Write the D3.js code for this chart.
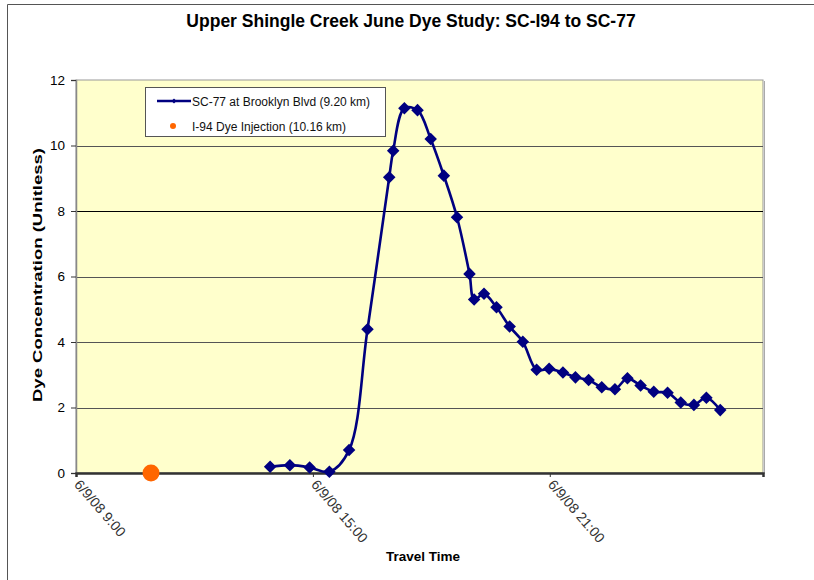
<!DOCTYPE html>
<html><head><meta charset="utf-8">
<script src="https://cdn.jsdelivr.net/npm/d3@7"></script>
<style>
body{margin:0;background:#fff;}
text{font-family:"Liberation Sans",Arial,sans-serif;}
</style></head>
<body><svg id="c" width="814" height="580"></svg>
<script>
// ---- data ----
const seriesName = "SC-77 at Brooklyn Blvd (9.20 km)";
const injectionName = "I-94 Dye Injection (10.16 km)";
const times = ["2008-06-09 13:55","2008-06-09 14:25","2008-06-09 14:55","2008-06-09 15:25","2008-06-09 15:55",
  "2008-06-09 16:23","2008-06-09 16:56","2008-06-09 17:02","2008-06-09 17:19","2008-06-09 17:39",
  "2008-06-09 17:59","2008-06-09 18:19","2008-06-09 18:39","2008-06-09 18:58","2008-06-09 19:05",
  "2008-06-09 19:20","2008-06-09 19:39","2008-06-09 19:59","2008-06-09 20:19","2008-06-09 20:40",
  "2008-06-09 20:59","2008-06-09 21:20","2008-06-09 21:39","2008-06-09 21:59","2008-06-09 22:19",
  "2008-06-09 22:39","2008-06-09 22:58","2008-06-09 23:18","2008-06-09 23:38","2008-06-09 23:59",
  "2008-06-10 00:19","2008-06-10 00:39","2008-06-10 00:58","2008-06-10 01:19"];
const concentration = [0.19,0.24,0.17,0.04,0.70,
  4.39,9.03,9.84,11.14,11.08,
  10.20,9.08,7.81,6.08,5.30,
  5.47,5.06,4.47,4.01,3.15,
  3.18,3.07,2.92,2.84,2.62,
  2.56,2.89,2.67,2.48,2.45,
  2.15,2.08,2.30,1.92];
const injectionTime = ["2008-06-09 10:54"];
const injectionValue = [0];
const xTickLabels = ["6/9/08 9:00","6/9/08 15:00","6/9/08 21:00"];
const xTicks = ["2008-06-09 09:00","2008-06-09 15:00","2008-06-09 21:00"];
const yTicks = [0,2,4,6,8,10,12];
const xDomain = ["2008-06-09 09:00","2008-06-10 02:24"];

// ---- drawing ----
const parse = d3.timeParse("%Y-%m-%d %H:%M");
const svg = d3.select("#c");
const L = 76, T = 80, R = 763, B = 473;

// outer frame
svg.append("path").attr("d","M7.5,580 V4.5 H814").attr("fill","none").attr("stroke","#555").attr("stroke-width",1);

const x = d3.scaleTime().domain(xDomain.map(parse)).range([L,R]);
const y = d3.scaleLinear().domain([0,12]).range([B,T]);

// plot background
svg.append("rect").attr("x",L).attr("y",T).attr("width",R-L).attr("height",B-T)
  .attr("fill","#FFFFCC").attr("stroke","#999").attr("stroke-width",1);
svg.append("line").attr("x1",R+1.5).attr("x2",R+1.5).attr("y1",T+1).attr("y2",B+1).attr("stroke","#aaa").attr("stroke-width",1);

// gridlines
svg.append("g").selectAll("line").data(yTicks.filter(v=>v>0&&v<12)).join("line")
  .attr("x1",L).attr("x2",R).attr("y1",d=>Math.round(y(d))+0.5).attr("y2",d=>Math.round(y(d))+0.5)
  .attr("stroke",d=>d===8?"#000":"#555").attr("stroke-width",1);

// y axis
const yAxis = svg.append("g").attr("transform",`translate(${L},0)`)
  .call(d3.axisLeft(y).tickValues(yTicks).tickSize(5).tickPadding(6));
yAxis.select(".domain").attr("stroke","#888").attr("stroke-width",1.5);
yAxis.selectAll(".tick line").attr("stroke","#333");
yAxis.selectAll("text").attr("font-size",13.5).attr("fill","#000").attr("font-family","Liberation Sans, Arial, sans-serif");

// x axis
const xAxis = svg.append("g").attr("transform",`translate(0,${B})`)
  .call(d3.axisBottom(x).tickValues(xTicks.map(parse)).tickSize(4).tickFormat((d,i)=>xTickLabels[i]));
xAxis.select(".domain").attr("stroke","#333").attr("stroke-width",2.5);
xAxis.selectAll(".tick line").attr("stroke","#333");
xAxis.selectAll("text").attr("font-size",14).attr("fill","#333").attr("font-family","Liberation Sans, Arial, sans-serif")
  .attr("text-anchor","start").attr("dy",0).attr("y",0)
  .attr("transform","translate(-3,12) rotate(49)");

// series line
const pts = times.map((t,i)=>({t:parse(t),v:concentration[i]}));
svg.append("path").datum(pts)
  .attr("d",d3.line().x(d=>x(d.t)).y(d=>y(d.v)).curve(d3.curveCatmullRom.alpha(0.5)))
  .attr("fill","none").attr("stroke","#000080").attr("stroke-width",2.6);
const diamond = d3.symbol().type(d3.symbolDiamond2).size(100);
svg.append("g").selectAll("path").data(pts).join("path")
  .attr("d",diamond).attr("transform",d=>`translate(${x(d.t)},${y(d.v)})`)
  .attr("fill","#000080");

// injection point
svg.append("g").selectAll("circle").data(injectionTime.map((t,i)=>({t:parse(t),v:injectionValue[i]}))).join("circle")
  .attr("cx",d=>x(d.t)).attr("cy",d=>y(d.v)).attr("r",8.5).attr("fill","#FF6600");

// legend
const lg = svg.append("g");
lg.append("rect").attr("x",145.5).attr("y",87.5).attr("width",240).attr("height",49)
  .attr("fill","#fff").attr("stroke","#555").attr("stroke-width",1);
lg.append("line").attr("x1",157).attr("x2",191).attr("y1",101).attr("y2",101).attr("stroke","#000080").attr("stroke-width",2.5);
lg.append("path").attr("d",d3.symbol().type(d3.symbolDiamond2).size(16)).attr("transform","translate(174,101)").attr("fill","#000080");
lg.append("text").attr("x",192).attr("y",105.5).attr("font-size",12).attr("fill","#111").text(seriesName);
lg.append("circle").attr("cx",173).attr("cy",126).attr("r",3).attr("fill","#FF6600");
lg.append("text").attr("x",192).attr("y",130.5).attr("font-size",12).attr("fill","#111").text(injectionName);

// titles
svg.append("text").attr("x",411).attr("y",27).attr("text-anchor","middle").attr("font-size",17.5).attr("font-weight","bold")
  .text("Upper Shingle Creek June Dye Study: SC-I94 to SC-77");
svg.append("text").attr("x",423).attr("y",561).attr("text-anchor","middle").attr("font-size",13.5).attr("font-weight","bold")
  .text("Travel Time");
svg.append("text").attr("transform","translate(42,275) rotate(-90)").attr("text-anchor","middle").attr("font-size",13.5).attr("font-weight","bold")
  .attr("textLength",254).attr("lengthAdjust","spacingAndGlyphs")
  .text("Dye Concentration (Unitless)");
</script></body></html>
